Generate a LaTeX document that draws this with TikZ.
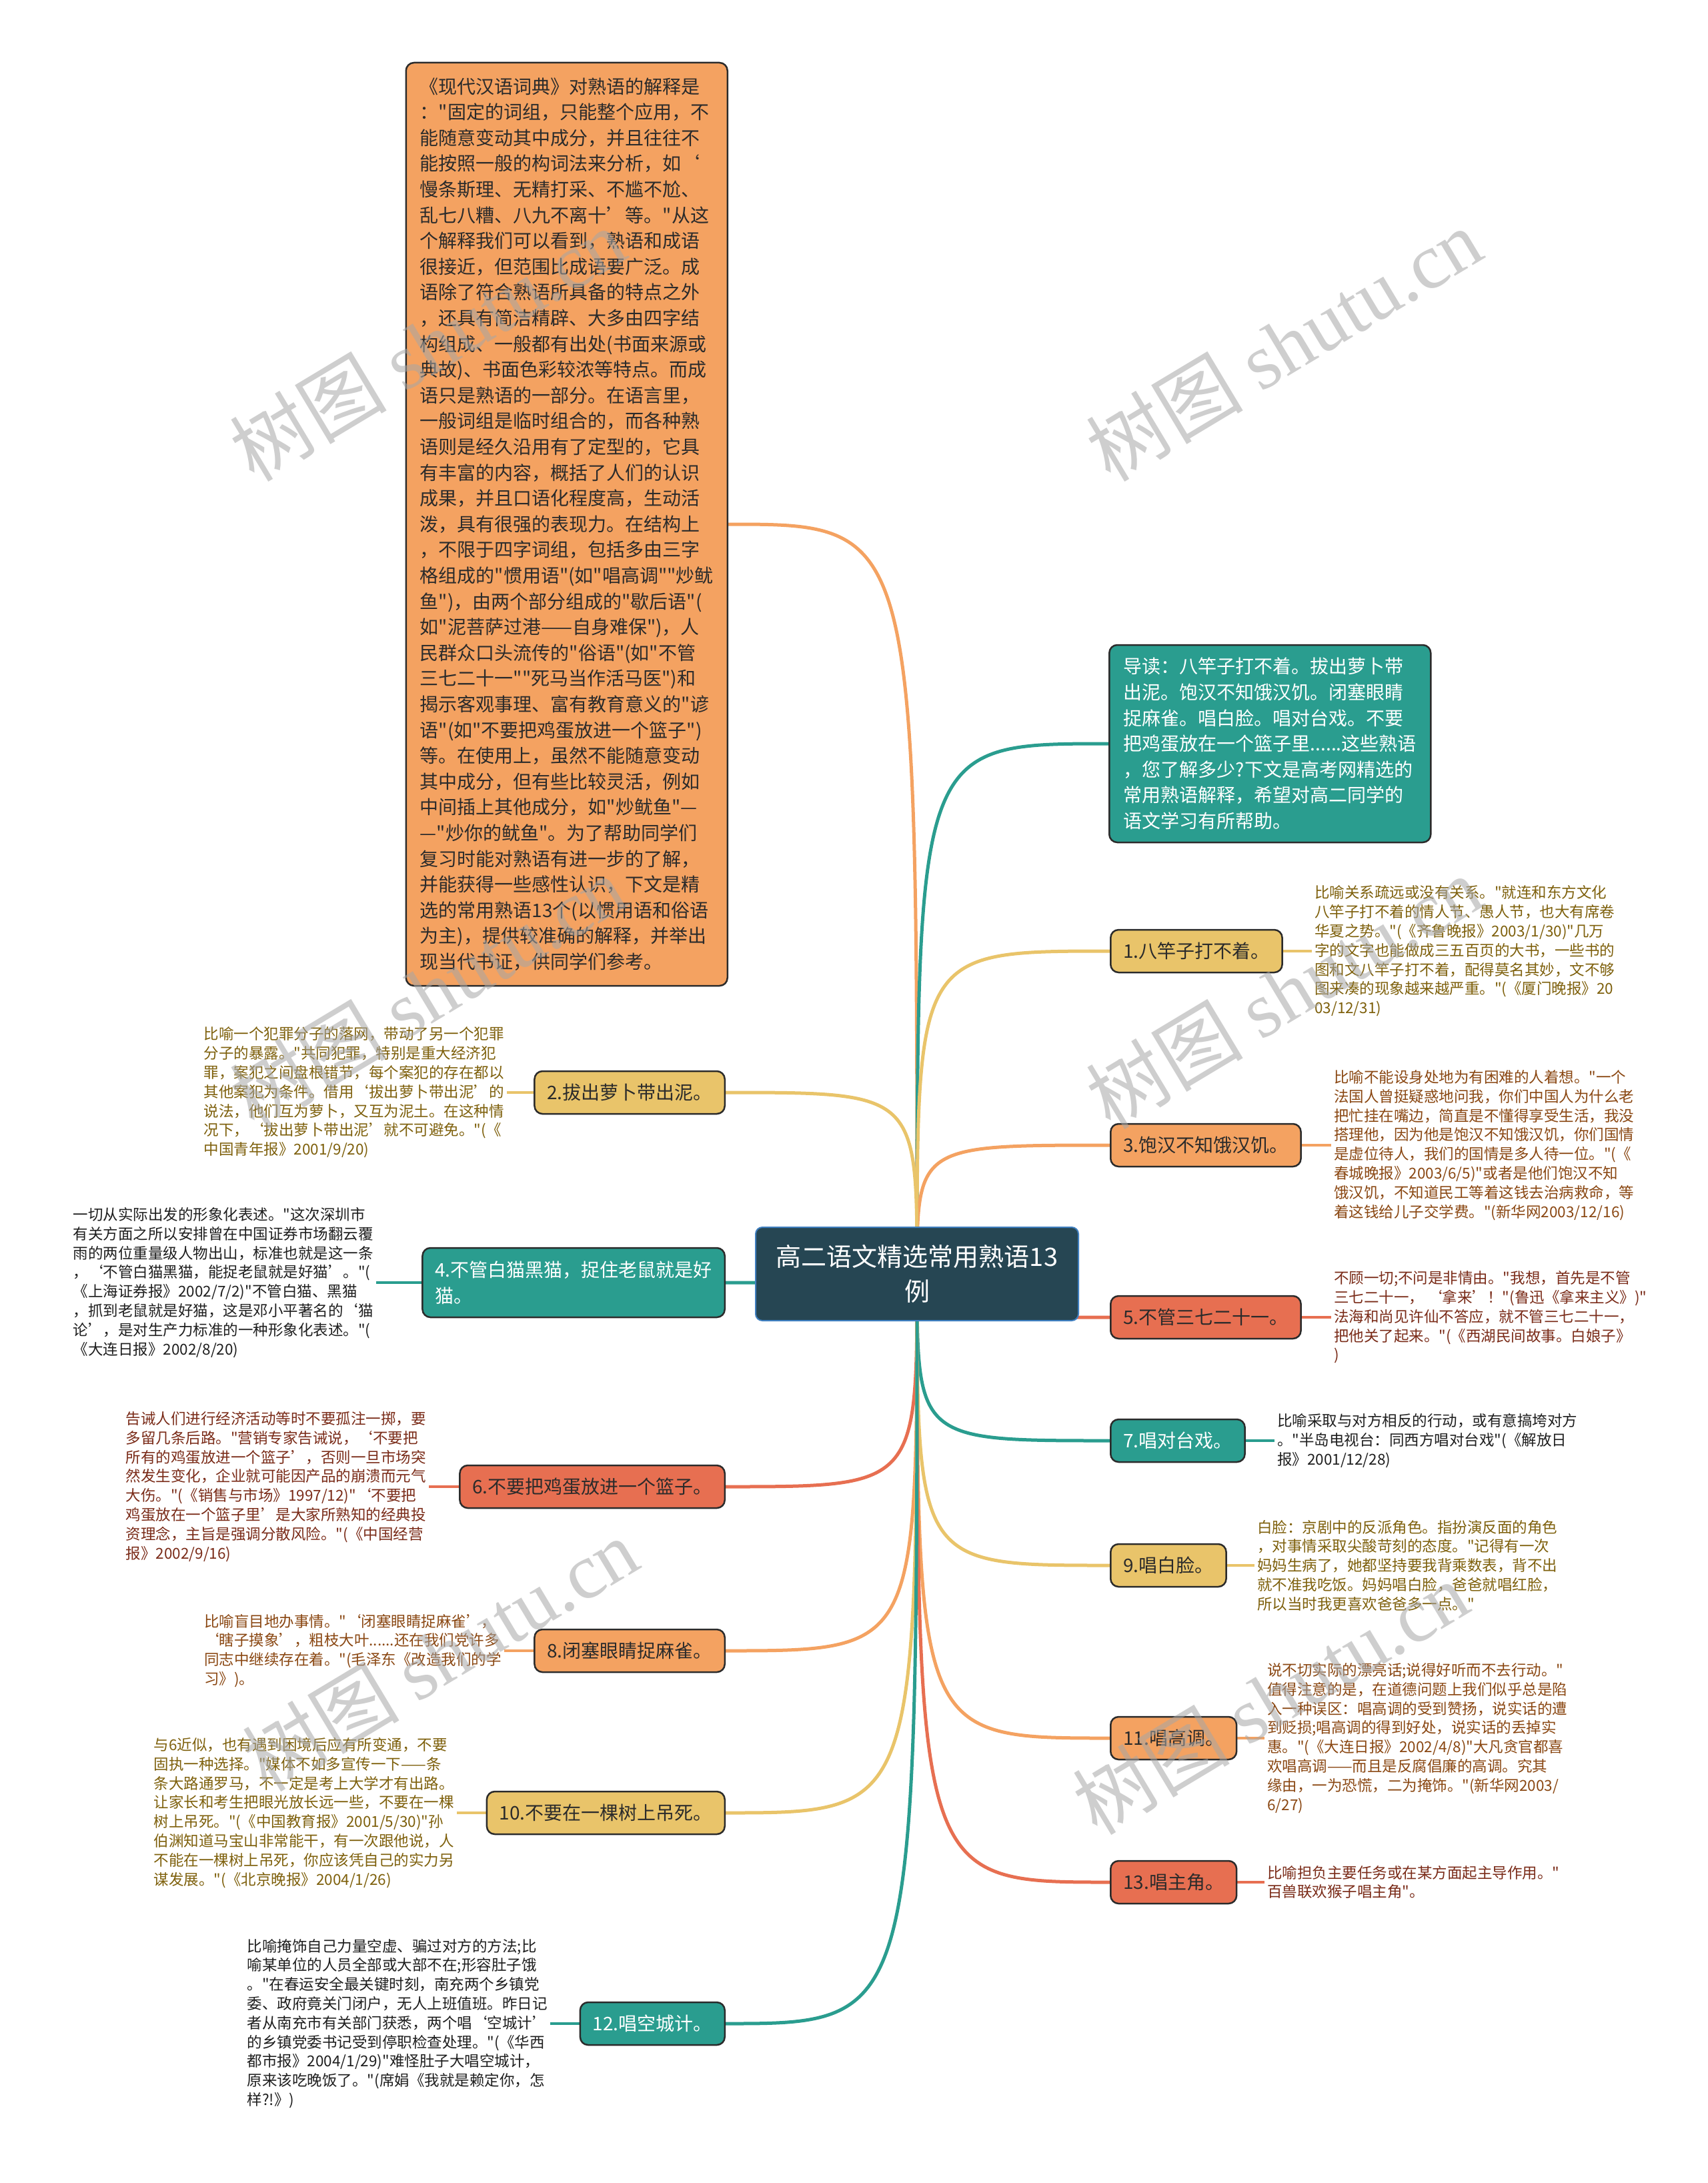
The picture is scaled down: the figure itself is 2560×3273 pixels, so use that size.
\documentclass[tikz,border=0pt]{standalone}
\usepackage{fontspec}
\newfontfamily\cjk{Noto Sans CJK SC}
\newfontfamily\wmlatin{Liberation Serif}
\usetikzlibrary{backgrounds,calc}
\definecolor{cDark}{HTML}{264653}
\definecolor{cTeal}{HTML}{2A9D8F}
\definecolor{cYel}{HTML}{E9C46A}
\definecolor{cOra}{HTML}{F4A261}
\definecolor{cRed}{HTML}{E76F51}
\definecolor{cBlue}{HTML}{3F7FC0}
\definecolor{cEdge}{HTML}{2B2B2B}
\definecolor{tYel}{HTML}{7E600C}
\definecolor{tOra}{HTML}{8A4712}
\definecolor{tRed}{HTML}{7A2B18}
\definecolor{tTeal}{HTML}{1E1E1E}
\tikzset{
  basebox/.style={draw=cEdge, line width=2.5pt, rounded corners=12pt, inner xsep=19pt, inner ysep=0pt, minimum height=64pt, align=left, text=cEdge, font=\fontsize{28}{38.6}\selectfont},
  boxY/.style={basebox, fill=cYel},
  boxO/.style={basebox, fill=cOra},
  boxR/.style={basebox, fill=cRed},
  boxT/.style={basebox, fill=cTeal, text=white},
  bigbox/.style={draw=cEdge, line width=2.5pt, rounded corners=12pt, inner xsep=16pt, inner ysep=0pt, align=left, font=\fontsize{28}{38.6}\selectfont},
  leaf/.style={inner sep=4pt, align=left, font=\fontsize{22.5}{28.8}\selectfont},
  conn/.style={line width=5pt, line cap=round},
  leafconn/.style={line width=4.5pt},
  wm/.style={text=black!35, opacity=0.55, rotate=31, font=\fontsize{118}{118}\selectfont},
}
\begin{document}
\cjk
\begin{tikzpicture}[x=1pt,y=-1pt]
\useasboundingbox (0,0) rectangle (2560,3273);

% central topic
\node[draw=cBlue, line width=2pt, fill=cDark, rounded corners=10pt, minimum width=484pt, minimum height=140pt, align=center, text=white, font=\fontsize{38}{52}\selectfont] (c) at (1375,1910) {高二语文精选常用熟语13\\例};

% big explanatory box
\node[bigbox, fill=cOra, text=cEdge, anchor=east, minimum width=482pt, minimum height=1384pt] (big) at (1092,786) {《现代汉语词典》对熟语的解释是\\
："固定的词组，只能整个应用，不\\
能随意变动其中成分，并且往往不\\
能按照一般的构词法来分析，如‘\\
慢条斯理、无精打采、不尴不尬、\\
乱七八糟、八九不离十’等。"从这\\
个解释我们可以看到，熟语和成语\\
很接近，但范围比成语要广泛。成\\
语除了符合熟语所具备的特点之外\\
，还具有简洁精辟、大多由四字结\\
构组成、一般都有出处(书面来源或\\
典故)、书面色彩较浓等特点。而成\\
语只是熟语的一部分。在语言里，\\
一般词组是临时组合的，而各种熟\\
语则是经久沿用有了定型的，它具\\
有丰富的内容，概括了人们的认识\\
成果，并且口语化程度高，生动活\\
泼，具有很强的表现力。在结构上\\
，不限于四字词组，包括多由三字\\
格组成的"惯用语"(如"唱高调""炒鱿\\
鱼")，由两个部分组成的"歇后语"(\\
如"泥菩萨过港——自身难保")，人\\
民群众口头流传的"俗语"(如"不管\\
三七二十一""死马当作活马医")和\\
揭示客观事理、富有教育意义的"谚\\
语"(如"不要把鸡蛋放进一个篮子")\\
等。在使用上，虽然不能随意变动\\
其中成分，但有些比较灵活，例如\\
中间插上其他成分，如"炒鱿鱼"—\\
—"炒你的鱿鱼"。为了帮助同学们\\
复习时能对熟语有进一步的了解，\\
并能获得一些感性认识，下文是精\\
选的常用熟语13个(以惯用语和俗语\\
为主)，提供较准确的解释，并举出\\
现当代书证，供同学们参考。};

% intro box
\node[bigbox, fill=cTeal, text=white, anchor=west, minimum width=482pt, minimum height=296pt] (intro) at (1662,1115) {导读：八竿子打不着。拔出萝卜带\\
出泥。饱汉不知饿汉饥。闭塞眼睛\\
捉麻雀。唱白脸。唱对台戏。不要\\
把鸡蛋放在一个篮子里......这些熟语\\
，您了解多少?下文是高考网精选的\\
常用熟语解释，希望对高二同学的\\
语文学习有所帮助。};

% right branches
\node[boxY, anchor=west] (b1) at (1664,1426) {1.八竿子打不着。};
\node[boxO, anchor=west] (b3) at (1664,1717) {3.饱汉不知饿汉饥。};
\node[boxR, anchor=west] (b5) at (1664,1975) {5.不管三七二十一。};
\node[boxT, anchor=west] (b7) at (1664,2160) {7.唱对台戏。};
\node[boxY, anchor=west] (b9) at (1664,2347) {9.唱白脸。};
\node[boxO, anchor=west] (b11) at (1664,2606) {11.唱高调。};
\node[boxR, anchor=west] (b13) at (1664,2822) {13.唱主角。};

% left branches
\node[boxY, anchor=east] (b2) at (1088,1638) {2.拔出萝卜带出泥。};
\node[boxT, anchor=east, minimum height=104pt] (b4) at (1088,1923) {4.不管白猫黑猫，捉住老鼠就是好\\猫。};
\node[boxR, anchor=east] (b6) at (1088,2229) {6.不要把鸡蛋放进一个篮子。};
\node[boxO, anchor=east] (b8) at (1088,2475) {8.闭塞眼睛捉麻雀。};
\node[boxY, anchor=east] (b10) at (1088,2718) {10.不要在一棵树上吊死。};
\node[boxT, anchor=east] (b12) at (1088,3034) {12.唱空城计。};

% right leaves
\node[leaf, text=tYel, anchor=west] (t1) at (1967,1426) {比喻关系疏远或没有关系。"就连和东方文化\\
八竿子打不着的情人节、愚人节，也大有席卷\\
华夏之势。"(《齐鲁晚报》2003/1/30)"几万\\
字的文字也能做成三五百页的大书，一些书的\\
图和文八竿子打不着，配得莫名其妙，文不够\\
图来凑的现象越来越严重。"(《厦门晚报》20\\
03/12/31)};
\node[leaf, text=tOra, anchor=west] (t3) at (1996,1717) {比喻不能设身处地为有困难的人着想。"一个\\
法国人曾挺疑惑地问我，你们中国人为什么老\\
把忙挂在嘴边，简直是不懂得享受生活，我没\\
搭理他，因为他是饱汉不知饿汉饥，你们国情\\
是虚位待人，我们的国情是多人待一位。"(《\\
春城晚报》2003/6/5)"或者是他们饱汉不知\\
饿汉饥，不知道民工等着这钱去治病救命，等\\
着这钱给儿子交学费。"(新华网2003/12/16)};
\node[leaf, text=tRed, anchor=west] (t5) at (1996,1975) {不顾一切;不问是非情由。"我想，首先是不管\\
三七二十一， ‘拿来’！"(鲁迅《拿来主义》)"\\
法海和尚见许仙不答应，就不管三七二十一，\\
把他关了起来。"(《西湖民间故事。白娘子》\\
)};
\node[leaf, text=tTeal, anchor=west] (t7) at (1911,2160) {比喻采取与对方相反的行动，或有意搞垮对方\\
。"半岛电视台：同西方唱对台戏"(《解放日\\
报》2001/12/28)};
\node[leaf, text=tYel, anchor=west] (t9) at (1881,2347) {白脸：京剧中的反派角色。指扮演反面的角色\\
，对事情采取尖酸苛刻的态度。"记得有一次\\
妈妈生病了，她都坚持要我背乘数表，背不出\\
就不准我吃饭。妈妈唱白脸，爸爸就唱红脸，\\
所以当时我更喜欢爸爸多一点。"};
\node[leaf, text=tOra, anchor=west] (t11) at (1896,2606) {说不切实际的漂亮话;说得好听而不去行动。"\\
值得注意的是，在道德问题上我们似乎总是陷\\
入一种误区：唱高调的受到赞扬，说实话的遭\\
到贬损;唱高调的得到好处，说实话的丢掉实\\
惠。"(《大连日报》2002/4/8)"大凡贪官都喜\\
欢唱高调——而且是反腐倡廉的高调。究其\\
缘由，一为恐慌，二为掩饰。"(新华网2003/\\
6/27)};
\node[leaf, text=tRed, anchor=west] (t13) at (1896,2822) {比喻担负主要任务或在某方面起主导作用。"\\
百兽联欢猴子唱主角"。};

% left leaves
\node[leaf, text=tYel, anchor=east] (t2) at (760,1638) {比喻一个犯罪分子的落网，带动了另一个犯罪\\
分子的暴露。"共同犯罪，特别是重大经济犯\\
罪，案犯之间盘根错节，每个案犯的存在都以\\
其他案犯为条件。借用‘拔出萝卜带出泥’的\\
说法，他们互为萝卜，又互为泥土。在这种情\\
况下，‘拔出萝卜带出泥’就不可避免。"(《\\
中国青年报》2001/9/20)};
\node[leaf, text=tTeal, anchor=east] (t4) at (564,1923) {一切从实际出发的形象化表述。"这次深圳市\\
有关方面之所以安排曾在中国证券市场翻云覆\\
雨的两位重量级人物出山，标准也就是这一条\\
，‘不管白猫黑猫，能捉老鼠就是好猫’。"(\\
《上海证券报》2002/7/2)"不管白猫、黑猫\\
，抓到老鼠就是好猫，这是邓小平著名的‘猫\\
论’，是对生产力标准的一种形象化表述。"(\\
《大连日报》2002/8/20)};
\node[leaf, text=tRed, anchor=east] (t6) at (643,2229) {告诫人们进行经济活动等时不要孤注一掷，要\\
多留几条后路。"营销专家告诫说，‘不要把\\
所有的鸡蛋放进一个篮子’，否则一旦市场突\\
然发生变化，企业就可能因产品的崩溃而元气\\
大伤。"(《销售与市场》1997/12)"‘不要把\\
鸡蛋放在一个篮子里’是大家所熟知的经典投\\
资理念，主旨是强调分散风险。"(《中国经营\\
报》2002/9/16)};
\node[leaf, text=tOra, anchor=east] (t8) at (756,2475) {比喻盲目地办事情。"‘闭塞眼睛捉麻雀’，\\
‘瞎子摸象’，粗枝大叶......还在我们党许多\\
同志中继续存在着。"(毛泽东《改造我们的学\\
习》)。};
\node[leaf, text=tYel, anchor=east] (t10) at (685,2718) {与6近似，也有遇到困境后应有所变通，不要\\
固执一种选择。"媒体不如多宣传一下——条\\
条大路通罗马，不一定是考上大学才有出路。\\
让家长和考生把眼光放长远一些，不要在一棵\\
树上吊死。"(《中国教育报》2001/5/30)"孙\\
伯渊知道马宝山非常能干，有一次跟他说，人\\
不能在一棵树上吊死，你应该凭自己的实力另\\
谋发展。"(《北京晚报》2004/1/26)};
\node[leaf, text=tTeal, anchor=east] (t12) at (825,3034) {比喻掩饰自己力量空虚、骗过对方的方法;比\\
喻某单位的人员全部或大部不在;形容肚子饿\\
。"在春运安全最关键时刻，南充两个乡镇党\\
委、政府竟关门闭户，无人上班值班。昨日记\\
者从南充市有关部门获悉，两个唱‘空城计’\\
的乡镇党委书记受到停职检查处理。"(《华西\\
都市报》2004/1/29)"难怪肚子大唱空城计，\\
原来该吃晚饭了。"(席娟《我就是赖定你，怎\\
样?!》)};

% connectors behind everything
\begin{scope}[on background layer]
\fill[white] (0,0) rectangle (2560,3273);
\draw[conn, cOra] (c.center) .. controls (c.center |- big.east) .. (big.east);
\draw[conn, cTeal] (c.center) .. controls (c.center |- intro.west) .. (intro.west);
\draw[conn, cYel] (c.center) .. controls (c.center |- b1.west) .. (b1.west);
\draw[conn, cOra] (c.center) .. controls (c.center |- b3.west) .. (b3.west);
\draw[conn, cRed] (c.center) .. controls (c.center |- b5.west) .. (b5.west);
\draw[conn, cTeal] (c.center) .. controls (c.center |- b7.west) .. (b7.west);
\draw[conn, cYel] (c.center) .. controls (c.center |- b9.west) .. (b9.west);
\draw[conn, cOra] (c.center) .. controls (c.center |- b11.west) .. (b11.west);
\draw[conn, cRed] (c.center) .. controls (c.center |- b13.west) .. (b13.west);
\draw[conn, cYel] (c.center) .. controls (c.center |- b2.east) .. (b2.east);
\draw[conn, cTeal] (c.center) .. controls (c.center |- b4.east) .. (b4.east);
\draw[conn, cRed] (c.center) .. controls (c.center |- b6.east) .. (b6.east);
\draw[conn, cOra] (c.center) .. controls (c.center |- b8.east) .. (b8.east);
\draw[conn, cYel] (c.center) .. controls (c.center |- b10.east) .. (b10.east);
\draw[conn, cTeal] (c.center) .. controls (c.center |- b12.east) .. (b12.east);
% leaf connectors
\draw[leafconn, cYel] (b1.east) -- (t1.west);
\draw[leafconn, cOra] (b3.east) -- (t3.west);
\draw[leafconn, cRed] (b5.east) -- (t5.west);
\draw[leafconn, cTeal] (b7.east) -- (t7.west);
\draw[leafconn, cYel] (b9.east) -- (t9.west);
\draw[leafconn, cOra] (b11.east) -- (t11.west);
\draw[leafconn, cRed] (b13.east) -- (t13.west);
\draw[leafconn, cYel] (b2.west) -- (t2.east);
\draw[leafconn, cTeal] (b4.west) -- (t4.east);
\draw[leafconn, cRed] (b6.west) -- (t6.east);
\draw[leafconn, cOra] (b8.west) -- (t8.east);
\draw[leafconn, cYel] (b10.west) -- (t10.east);
\draw[leafconn, cTeal] (b12.west) -- (t12.east);
\end{scope}

% watermarks
\node[wm] (w1) at (641,516) {树图 {\wmlatin shutu.cn}};
\node[wm] (w2) at (1925,516) {树图 {\wmlatin shutu.cn}};
\node[wm] (w3) at (1925,1487) {树图 {\wmlatin shutu.cn}};
\node[wm] (w4) at (641,1487) {树图 {\wmlatin shutu.cn}};
\node[wm] (w5) at (660,2480) {树图 {\wmlatin shutu.cn}};
\node[wm] (w6) at (1905,2545) {树图 {\wmlatin shutu.cn}};
\end{tikzpicture}
\end{document}
